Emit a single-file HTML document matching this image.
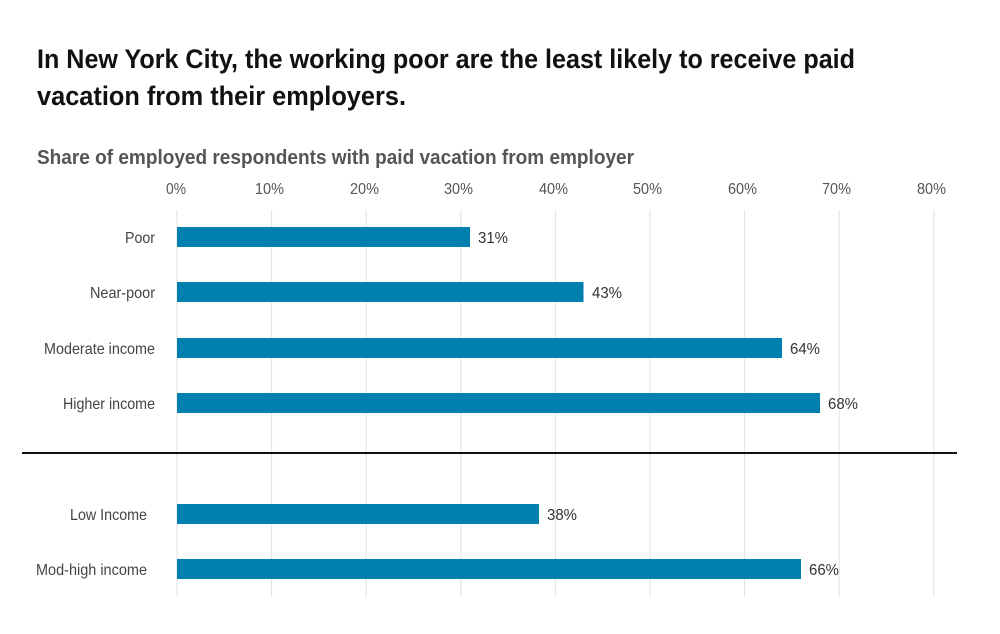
<!DOCTYPE html>
<html><head><meta charset="utf-8"><style>
html,body{margin:0;padding:0;background:#fff;}
svg{display:block;font-family:"Liberation Sans Narrow","Liberation Sans",sans-serif;}
</style></head><body>
<svg width="1000" height="634" viewBox="0 0 1000 634" xmlns="http://www.w3.org/2000/svg">
<text x="37" y="68" font-size="27" font-weight="bold" fill="#111" textLength="818" lengthAdjust="spacingAndGlyphs">In New York City, the working poor are the least likely to receive paid</text>
<text x="37" y="105" font-size="27" font-weight="bold" fill="#111" textLength="369" lengthAdjust="spacingAndGlyphs">vacation from their employers.</text>
<text x="37" y="164" font-size="20" font-weight="bold" fill="#555" textLength="597" lengthAdjust="spacingAndGlyphs">Share of employed respondents with paid vacation from employer</text>
<g stroke="#e2e2e2" stroke-width="1">
<line x1="177" y1="210" x2="177" y2="597"/><line x1="271.6" y1="210" x2="271.6" y2="597"/>
<line x1="366.2" y1="210" x2="366.2" y2="597"/><line x1="460.8" y1="210" x2="460.8" y2="597"/>
<line x1="555.4" y1="210" x2="555.4" y2="597"/><line x1="650" y1="210" x2="650" y2="597"/>
<line x1="744.6" y1="210" x2="744.6" y2="597"/><line x1="839.2" y1="210" x2="839.2" y2="597"/>
<line x1="933.8" y1="210" x2="933.8" y2="597"/>
</g>
<g font-size="16" fill="#555">
<text x="166" y="194" textLength="20" lengthAdjust="spacingAndGlyphs">0%</text>
<text x="255" y="194" textLength="29" lengthAdjust="spacingAndGlyphs">10%</text>
<text x="350" y="194" textLength="29" lengthAdjust="spacingAndGlyphs">20%</text>
<text x="444" y="194" textLength="29" lengthAdjust="spacingAndGlyphs">30%</text>
<text x="539" y="194" textLength="29" lengthAdjust="spacingAndGlyphs">40%</text>
<text x="633" y="194" textLength="29" lengthAdjust="spacingAndGlyphs">50%</text>
<text x="728" y="194" textLength="29" lengthAdjust="spacingAndGlyphs">60%</text>
<text x="822" y="194" textLength="29" lengthAdjust="spacingAndGlyphs">70%</text>
<text x="917" y="194" textLength="29" lengthAdjust="spacingAndGlyphs">80%</text>
</g>
<g fill="#0080ae">
<rect x="177" y="227" width="293" height="20"/>
<rect x="177" y="282" width="406.5" height="20"/>
<rect x="177" y="338" width="605" height="20"/>
<rect x="177" y="393" width="643" height="20"/>
<rect x="177" y="504" width="362" height="20"/>
<rect x="177" y="559" width="624" height="20"/>
</g>
<g font-size="16" fill="#444">
<text x="125" y="243" textLength="30" lengthAdjust="spacingAndGlyphs">Poor</text>
<text x="90" y="298" textLength="65" lengthAdjust="spacingAndGlyphs">Near-poor</text>
<text x="44" y="354" textLength="111" lengthAdjust="spacingAndGlyphs">Moderate income</text>
<text x="63" y="409" textLength="92" lengthAdjust="spacingAndGlyphs">Higher income</text>
<text x="70" y="520" textLength="77" lengthAdjust="spacingAndGlyphs">Low Income</text>
<text x="36" y="575" textLength="111" lengthAdjust="spacingAndGlyphs">Mod-high income</text>
</g>
<g font-size="16" fill="#333">
<text x="478" y="243" textLength="30" lengthAdjust="spacingAndGlyphs">31%</text>
<text x="592" y="298" textLength="30" lengthAdjust="spacingAndGlyphs">43%</text>
<text x="790" y="354" textLength="30" lengthAdjust="spacingAndGlyphs">64%</text>
<text x="828" y="409" textLength="30" lengthAdjust="spacingAndGlyphs">68%</text>
<text x="547" y="520" textLength="30" lengthAdjust="spacingAndGlyphs">38%</text>
<text x="809" y="575" textLength="30" lengthAdjust="spacingAndGlyphs">66%</text>
</g>
<line x1="22" y1="453" x2="957" y2="453" stroke="#111" stroke-width="2"/>
</svg>
</body></html>
